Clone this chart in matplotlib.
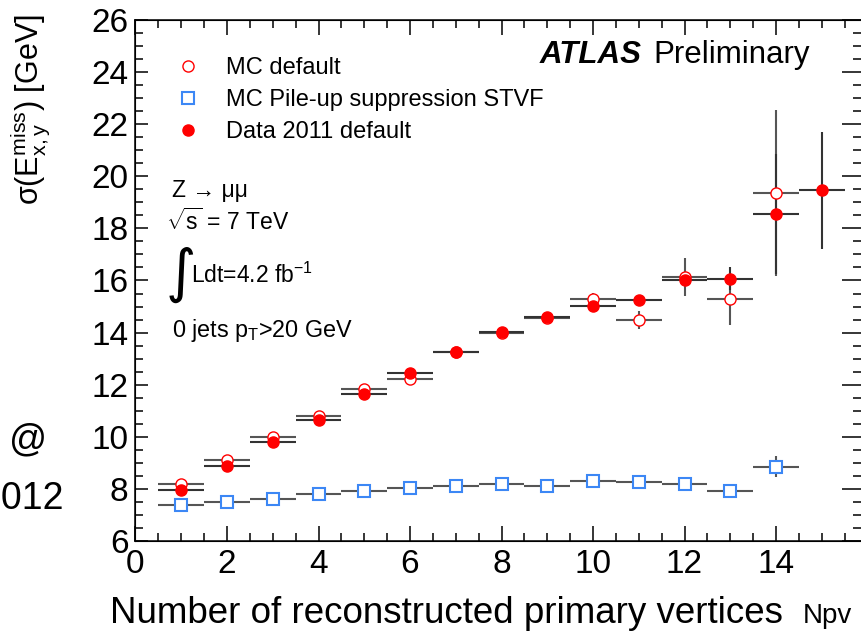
import numpy as np
import matplotlib.pyplot as plt
from matplotlib.lines import Line2D
from matplotlib.ticker import MultipleLocator, FuncFormatter

plt.rcParams['font.family'] = ['Liberation Sans', 'DejaVu Sans']
plt.rcParams['mathtext.fontset'] = 'custom'
plt.rcParams['mathtext.rm'] = 'Liberation Sans'
plt.rcParams['mathtext.it'] = 'Liberation Sans:italic'
plt.rcParams['mathtext.bf'] = 'Liberation Sans:bold'

# Npv bins
npv_mc = np.arange(1, 15)
npv_data = np.arange(1, 16)

# MC default
mc_default = [8.18, 9.10, 9.98, 10.80, 11.82, 12.22, 13.25, 13.97, 14.55, 15.28, 14.48, 16.15, 15.29, 19.36]
mc_default_err = [0.05, 0.05, 0.05, 0.05, 0.06, 0.08, 0.08, 0.10, 0.12, 0.25, 0.35, 0.73, 1.0, 3.2]

# MC pile-up suppression STVF
mc_stvf = [7.38, 7.50, 7.62, 7.82, 7.91, 8.02, 8.12, 8.18, 8.11, 8.30, 8.25, 8.19, 7.91, 8.85]
mc_stvf_err = [0.03, 0.03, 0.03, 0.03, 0.03, 0.03, 0.04, 0.05, 0.05, 0.06, 0.07, 0.08, 0.1, 0.4]

# Data 2011 default
data_default = [7.96, 8.87, 9.81, 10.66, 11.64, 12.45, 13.27, 14.02, 14.60, 15.02, 15.24, 16.02, 16.07, 18.54, 19.46]
data_default_err = [0.03, 0.03, 0.03, 0.03, 0.04, 0.05, 0.06, 0.07, 0.09, 0.12, 0.16, 0.25, 0.45, 2.3, 2.25]

fig = plt.figure(figsize=(8.62, 6.32), dpi=100)
ax = fig.add_axes([135.5 / 862, 91 / 632, (867.5 - 135.5) / 862, 521 / 632])

ax.errorbar(npv_mc, mc_default, xerr=0.5, yerr=mc_default_err, fmt='o', ms=8,
            mfc='white', mec='red', mew=1.0, ecolor='#555555', elinewidth=1.5, capsize=0)
ax.errorbar(npv_mc, mc_stvf, xerr=0.5, yerr=mc_stvf_err, fmt='s', ms=9,
            mfc='white', mec='#3c87f5', mew=1.5, ecolor='#555555', elinewidth=1.5, capsize=0)
ax.errorbar(npv_data, data_default, xerr=0.5, yerr=data_default_err, fmt='o', ms=8,
            mfc='red', mec='red', ecolor='#333333', elinewidth=1.5, capsize=0)

ax.set_xlim(0, 16)
ax.set_ylim(6, 26)
ax.xaxis.set_major_locator(MultipleLocator(2))
ax.xaxis.set_minor_locator(MultipleLocator(0.5))
ax.xaxis.set_major_formatter(FuncFormatter(lambda v, p: '' if v > 15 else '%d' % v))
ax.yaxis.set_major_locator(MultipleLocator(2))
ax.yaxis.set_minor_locator(MultipleLocator(0.5))
ax.tick_params(axis='x', which='both', direction='in', top=True, labelsize=24, pad=6)
ax.tick_params(axis='x', which='major', length=10.8, width=1.1)
ax.tick_params(axis='x', which='minor', length=5.8, width=1.1)
ax.tick_params(axis='y', which='both', direction='in', labelsize=24, pad=5)
ax.tick_params(axis='y', which='major', length=9.4, width=1.1)
ax.tick_params(axis='y', which='minor', length=5.8, width=1.1)
for s in ax.spines.values():
    s.set_linewidth(1.1)

# right side ticks are longer
ax2 = ax.twinx()
ax2.set_ylim(6, 26)
ax2.yaxis.set_major_locator(MultipleLocator(2))
ax2.yaxis.set_minor_locator(MultipleLocator(0.5))
ax2.tick_params(axis='y', which='both', direction='in', labelright=False)
ax2.tick_params(axis='y', which='major', length=18.7, width=1.1)
ax2.tick_params(axis='y', which='minor', length=10.8, width=1.1)

handles = [
    Line2D([], [], ls='none', marker='o', ms=8, mfc='white', mec='red', mew=1.0),
    Line2D([], [], ls='none', marker='s', ms=9, mfc='white', mec='#3c87f5', mew=1.5),
    Line2D([], [], ls='none', marker='o', ms=8, mfc='red', mec='red'),
]
labels = ['MC default', 'MC Pile-up suppression STVF', 'Data 2011 default']
ax.legend(handles, labels, loc='upper left', bbox_to_anchor=(176 / 862, 1 - 57 / 632),
          bbox_transform=fig.transFigure, frameon=False, fontsize=17, borderpad=0,
          borderaxespad=0, handlelength=1.0, handletextpad=1.1, labelspacing=0.42)

fig.text(540 / 862, 1 - 63 / 632, 'ATLAS', fontsize=22.5, fontweight='bold', fontstyle='italic',
         ha='left', va='baseline')
fig.text(653 / 862, 1 - 63 / 632, 'Preliminary', fontsize=22.5, ha='left', va='baseline')

fig.text(172 / 862, 1 - 197 / 632, 'Z \u2192 \u03bc\u03bc', fontsize=16.5, ha='left', va='baseline')
fig.text(166 / 862, 1 - 230 / 632, r'$\sqrt{\mathrm{s}}$ = 7 TeV', fontsize=16.5, ha='left', va='baseline')
fig.text(166 / 862, 1 - 291 / 632, '\u222b', fontsize=42, ha='left', va='baseline',
         family=['DejaVu Sans'])
fig.text(191 / 862, 1 - 283 / 632, r'Ldt=4.2 fb$^{\mathrm{-1}}$', fontsize=16.5, ha='left', va='baseline')
fig.text(172 / 862, 1 - 337 / 632, r'0 jets p$_{\mathrm{T}}$>20 GeV', fontsize=16.8, ha='left', va='baseline')

fig.text(30 / 862, 1 - 14 / 632, r'σ($\mathrm{E}^{\mathrm{miss}}_{\mathrm{x,y}}$) [GeV]',
         fontsize=22, rotation=90, ha='center', va='top')
fig.text(110 / 862, 1 - 623 / 632, 'Number of reconstructed primary vertices', fontsize=26.5,
         ha='left', va='baseline')
fig.text(803 / 862, 1 - 623 / 632, 'Npv', fontsize=20, ha='left', va='baseline')

# leftovers of the slide text at the left edge
fig.text(28 / 862, 1 - 450 / 632, '@', fontsize=27, ha='center', va='baseline')
fig.text(64 / 862, 1 - 509 / 632, '2012', fontsize=27, ha='right', va='baseline')

fig.savefig('out.png', dpi=100)
